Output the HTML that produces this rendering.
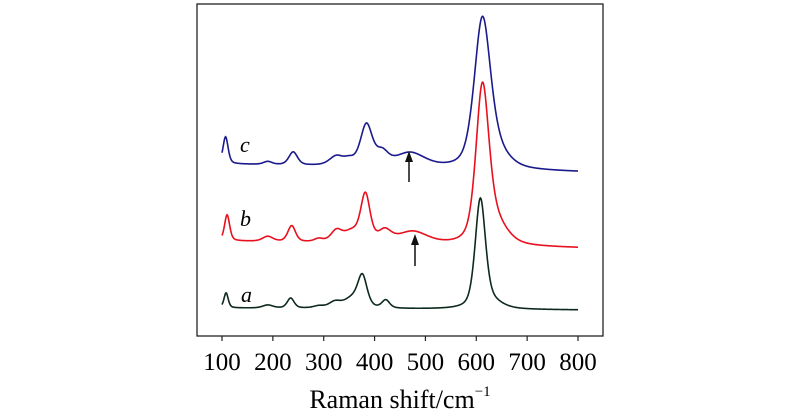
<!DOCTYPE html>
<html><head><meta charset="utf-8"><style>
html,body{margin:0;padding:0;background:#fff;}
svg{display:block;font-family:"Liberation Serif",serif;}
</style></head><body>
<svg id="chart" width="800" height="415" viewBox="0 0 800 415">
<rect x="197" y="4" width="406" height="332" fill="none" stroke="#222" stroke-width="1.3"/>
<g id="ticks"></g>
<g id="series"></g>
<text x="240" y="152" font-size="22" font-style="italic">c</text>
<text x="240" y="226" font-size="22" font-style="italic">b</text>
<text x="241" y="302" font-size="22" font-style="italic">a</text>
<g>
<line x1="409" y1="182" x2="409" y2="159" stroke="#111" stroke-width="1.5"/>
<polygon points="409,151 405,162 413,162" fill="#111"/></g>
<g>
<line x1="415" y1="266" x2="415" y2="242" stroke="#111" stroke-width="1.5"/>
<polygon points="415,234 411,245 419,245" fill="#111"/></g>
<text x="400" y="408" font-size="26" text-anchor="middle">Raman shift/cm<tspan font-size="15" dy="-12">−1</tspan></text>
</svg>
<script>
const tickValues=[100,200,300,400,500,600,700,800];
const tickLabels=["100","200","300","400","500","600","700","800"];
// series a (black)
const aBase=[28,26];
const aPeakPos=[108,190,235,290,322,355,376,422,608,630];
const aPeakH=[15,3,10,2,6,9,31,8,108,6];
const aPeakW=[5,12,8,12,14,18,11,9,12,25];
// series b (red)
const bBase=[95,88];
const bPeakPos=[110,190,237,290,325,355,382,420,475,612,635];
const bPeakH=[26,5,16,3,11,10,47,11,12,150,22];
const bPeakW=[6,12,9,10,13,18,11,15,35,15,28];
// series c (blue)
const cBase=[172,164];
const cPeakPos=[107,190,240,325,350,384,415,470,612,640];
const cPeakH=[27,3,13,9,5,41,12,14,146,14];
const cPeakW=[6,10,10,16,12,14,14,35,19,28];

const X0=100,X1=800,PX0=222,PX1=578;
function xS(v){return PX0+(v-X0)*(PX1-PX0)/(X1-X0);}
function yS(v){return 336-v;}
const NS="http://www.w3.org/2000/svg";
const tg=document.getElementById('ticks');
tickValues.forEach((t,i)=>{
 const l=document.createElementNS(NS,'line');
 
 
 l.setAttribute('x1',xS(t));l.setAttribute('x2',xS(t));
 l.setAttribute('y1',336);l.setAttribute('y2',341);
 l.setAttribute('stroke','#222');l.setAttribute('stroke-width','1.2');
 tg.appendChild(l);
 const tx=document.createElementNS(NS,'text');
 
 
 tx.setAttribute('x',xS(t));tx.setAttribute('y',370);
 tx.setAttribute('text-anchor','middle');tx.setAttribute('font-size','25');
 tx.textContent=tickLabels[i];
 tg.appendChild(tx);
});
const ETA=0.45;
function curve(base,pos,h,w){
 let d='';
 for(let x=100;x<=800;x+=1){
  let v=base[0]+(base[1]-base[0])*(x-100)/700;
  for(let i=0;i<pos.length;i++){
   const r=(x-pos[i])/w[i];
   v+=h[i]*(ETA/(1+r*r)+(1-ETA)*Math.exp(-0.693*r*r));
  }
  d+=(x===100?'M':'L')+xS(x).toFixed(2)+','+yS(v).toFixed(2);
 }
 return d;
}
const sg=document.getElementById('series');
[[aBase,aPeakPos,aPeakH,aPeakW,'#0d2a1c','series-a-line'],
 [bBase,bPeakPos,bPeakH,bPeakW,'#e8101e','series-b-line'],
 [cBase,cPeakPos,cPeakH,cPeakW,'#1a1a8c','series-c-line']].forEach(s=>{
 const p=document.createElementNS(NS,'path');
 
 
 p.setAttribute('d',curve(s[0],s[1],s[2],s[3]));
 p.setAttribute('fill','none');p.setAttribute('stroke',s[4]);p.setAttribute('stroke-width','1.6');
 sg.appendChild(p);
});
</script>
</body></html>
